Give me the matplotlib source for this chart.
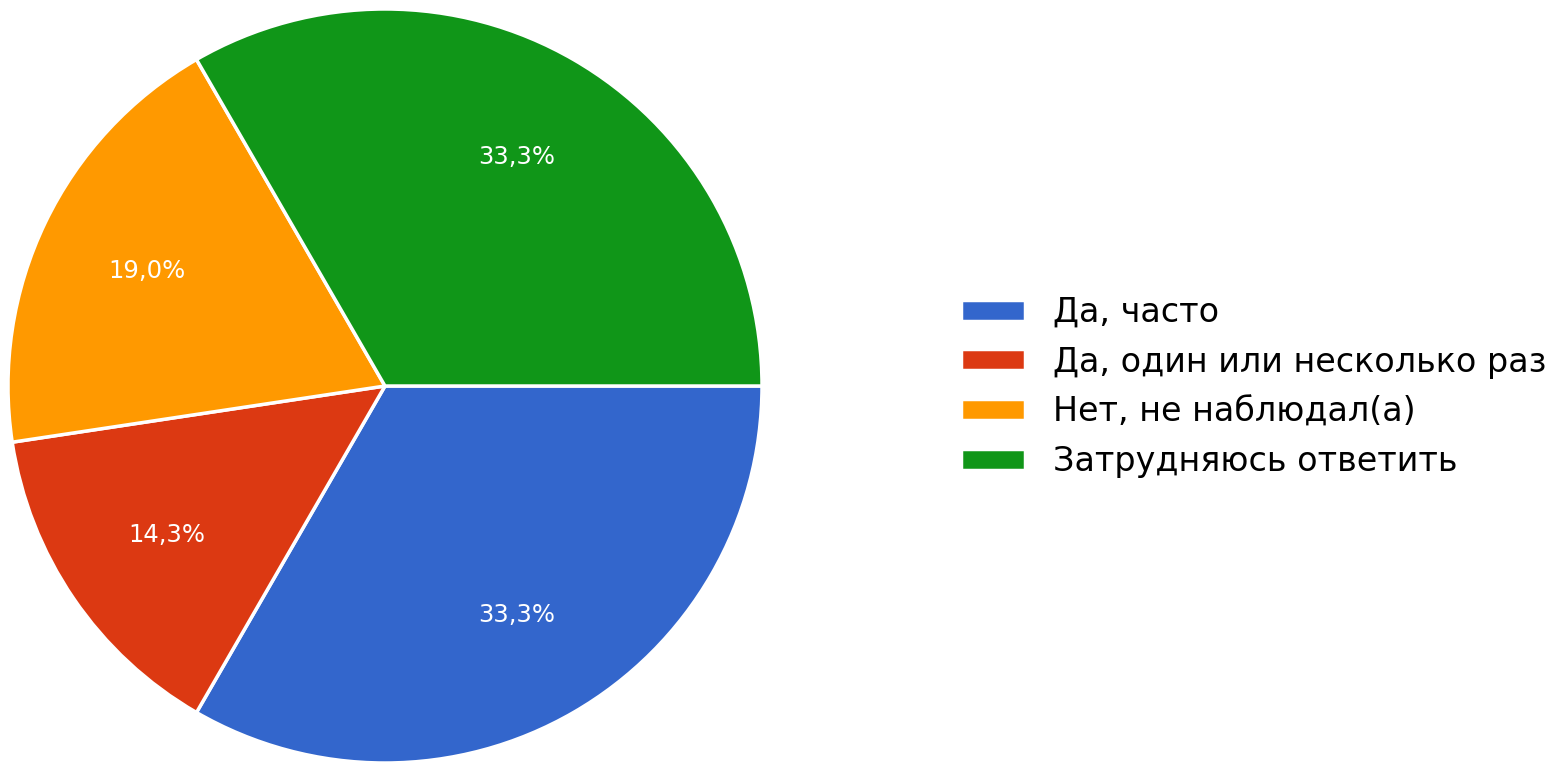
import matplotlib.pyplot as plt

labels = ["Да, часто", "Да, один или несколько раз", "Нет, не наблюдал(а)", "Затрудняюсь ответить"]
counts = [7, 3, 4, 7]
colors = ["#3366CC", "#DC3912", "#FF9900", "#109618"]

fig = plt.figure(figsize=(15.65, 7.73), dpi=100)
lim = 1.01
half = 377 * lim
ax = fig.add_axes([(385 - half) / 1565, (387 - half) / 773, 2 * half / 1565, 2 * half / 773])

wedges, texts, autotexts = ax.pie(
    counts,
    colors=colors,
    startangle=0,
    counterclock=False,
    autopct=lambda p: f"{p:.1f}%".replace(".", ","),
    pctdistance=0.7,
    wedgeprops=dict(edgecolor="white", linewidth=2.5),
    textprops=dict(color="white", fontsize=17.5),
)
ax.set_xlim(-lim, lim)
ax.set_ylim(-lim, lim)
ax.set_aspect("equal")

fig.legend(
    wedges, labels,
    loc="center left",
    bbox_to_anchor=(961 / 1565, 1 - 387 / 773),
    frameon=False,
    fontsize=24,
    borderpad=0,
    borderaxespad=0,
    handlelength=1.92,
    handleheight=0.6,
    handletextpad=0.84,
    labelspacing=0.5,
)

fig.savefig("out.png", dpi=100)
